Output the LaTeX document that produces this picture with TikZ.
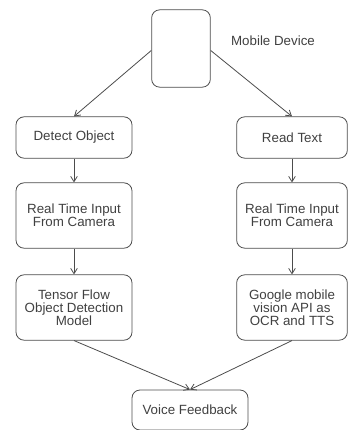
\documentclass[tikz,border=0pt]{standalone}
\usepackage{fontspec}
\setmainfont{Liberation Sans}
\usepackage{tikz}
\usetikzlibrary{arrows.meta}

\begin{document}
\begin{tikzpicture}[x=0.75pt,y=-0.75pt,
    box/.style={draw=black!70,rounded corners=6pt,line width=0.6pt,align=center,
      text=black!75,font=\fontsize{10}{9.6}\selectfont,inner sep=0pt},
    flow/.style={draw=black!70,line width=0.6pt,-{Straight Barb[length=4pt,width=5pt]}}]
  \useasboundingbox (0,0) rectangle (348,430);
  \node[box,minimum width=44pt,minimum height=58pt] (mobile) at (181,48.5) {};
  \node[text=black!75,font=\fontsize{10}{12}\selectfont] (mlabel) at (273,41) {Mobile Device};
  \node[box,minimum width=87pt,minimum height=31pt] (detect) at (74,137.5) {Detect Object};
  \node[box,minimum width=83pt,minimum height=31pt] (read) at (292,137.5) {Read Text};
  \node[box,minimum width=87pt,minimum height=49pt] (camL) at (74,215.5) {Real Time Input\\From Camera};
  \node[box,minimum width=83pt,minimum height=49pt] (camR) at (292,215.5) {Real Time Input\\From Camera};
  \node[box,minimum width=87pt,minimum height=49pt] (tfm) at (74,307.5) {Tensor Flow\\Object Detection\\Model};
  \node[box,minimum width=83pt,minimum height=49pt] (ocr) at (292,307.5) {Google mobile\\vision API as\\OCR and TTS};
  \node[box,minimum width=87pt,minimum height=30pt] (voice) at (190,410) {Voice Feedback};
  % arrows
  \draw[flow] ([yshift=-1.5pt]mobile.west) -- (detect.north);
  \draw[flow] ([yshift=-1.5pt]mobile.east) -- (read.north);
  \draw[flow] (detect) -- (camL);
  \draw[flow] (read) -- (camR);
  \draw[flow] (camL) -- (tfm);
  \draw[flow] (camR) -- (ocr);
  \draw[flow] (tfm.south) -- (voice.north);
  \draw[flow] (ocr.south) -- (voice.north);
\end{tikzpicture}
\end{document}
